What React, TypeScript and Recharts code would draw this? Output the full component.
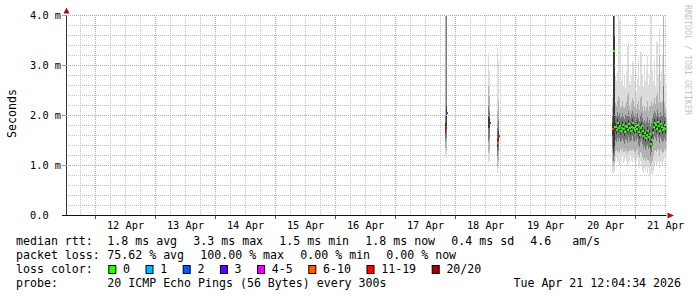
import React from 'react';
import { ComposedChart, Bar, Scatter, XAxis, YAxis, CartesianGrid, ReferenceDot, ReferenceLine } from 'recharts';

const MONO = '"DejaVu Sans Mono", "Liberation Mono", monospace';

// sample times in hours since 11 Apr 00:00 (one rrd step per pixel column, 24 min)
const times = [
  164.0, 164.4, 181.2, 181.6, 184.8, 185.2,
  230.8, 231.2, 231.6, 232.0, 232.4, 232.8, 233.2, 233.6, 234.0, 234.4,
  234.8, 235.2, 235.6, 236.0, 236.4, 236.8, 237.2, 237.6, 238.0, 238.4,
  238.8, 239.2, 239.6, 240.0, 240.4, 240.8, 241.2, 241.6, 242.0, 242.4,
  242.8, 243.2, 243.6, 244.0, 244.4, 244.8, 245.2, 245.6, 246.0, 246.4,
  246.8, 247.2, 247.6, 248.0, 248.4, 248.8, 249.2, 249.6, 250.0, 250.4,
  250.8, 251.2, 251.6, 252.0, 252.4,
];

// smoke percentiles of the 20 pings, ms
const rttMin = [
  1.2, 1.15, 1.05, 1.1, 0.85, 0.95,
  0.85, 0.85, 0.9, 1.1, 1.15, 1.05, 1.1, 1.0, 1.15, 1.1,
  1.2, 1.05, 1.1, 1.15, 1.1, 1.0, 1.05, 1.1, 1.2, 1.1,
  1.05, 1.15, 1.1, 1.0, 1.1, 1.15, 1.0, 0.95, 1.1, 1.0,
  0.9, 0.85, 0.95, 0.9, 1.0, 0.85, 0.95, 0.8, 0.8, 0.85,
  0.8, 0.9, 1.0, 1.1, 1.0, 1.05, 1.1, 0.95, 1.1, 1.05,
  1.0, 1.1, 1.15, 1.1, 1.2,
];
const rttP10 = [
  1.35, 1.3, 1.25, 1.3, 1.0, 1.1,
  1.1, 1.0, 1.05, 1.3, 1.32, 1.28, 1.3, 1.25, 1.33, 1.3,
  1.36, 1.27, 1.28, 1.34, 1.3, 1.24, 1.3, 1.3, 1.34, 1.3,
  1.32, 1.32, 1.28, 1.26, 1.3, 1.33, 1.22, 1.18, 1.28, 1.26,
  1.18, 1.12, 1.16, 1.1, 1.16, 1.12, 1.12, 1.08, 1.0, 1.05,
  1.1, 1.2, 1.3, 1.32, 1.27, 1.33, 1.32, 1.2, 1.34, 1.3,
  1.26, 1.28, 1.34, 1.3, 1.34,
];
const rttP25 = [
  1.5, 1.55, 1.5, 1.55, 1.2, 1.3,
  1.35, 1.1, 1.2, 1.52, 1.48, 1.56, 1.5, 1.55, 1.47, 1.5,
  1.56, 1.5, 1.44, 1.54, 1.52, 1.46, 1.58, 1.5, 1.47, 1.52,
  1.6, 1.5, 1.47, 1.53, 1.49, 1.56, 1.42, 1.38, 1.48, 1.54,
  1.44, 1.36, 1.4, 1.32, 1.38, 1.42, 1.34, 1.38, 1.2, 1.28,
  1.4, 1.52, 1.6, 1.56, 1.5, 1.62, 1.55, 1.45, 1.58, 1.52,
  1.48, 1.5, 1.56, 1.5, 1.48,
];
const rttP40 = [
  1.65, 1.8, 1.75, 1.75, 1.38, 1.5,
  1.6, 1.25, 1.4, 1.7, 1.64, 1.77, 1.67, 1.72, 1.62, 1.68,
  1.74, 1.66, 1.6, 1.72, 1.69, 1.64, 1.76, 1.67, 1.62, 1.7,
  1.78, 1.68, 1.64, 1.72, 1.66, 1.74, 1.6, 1.54, 1.67, 1.72,
  1.62, 1.52, 1.58, 1.48, 1.54, 1.62, 1.5, 1.56, 1.36, 1.44,
  1.58, 1.7, 1.78, 1.74, 1.66, 1.8, 1.72, 1.62, 1.76, 1.7,
  1.64, 1.68, 1.74, 1.66, 1.62,
];
const rttMedian = [
  1.76, 2.05, 1.92, 1.86, 1.46, 1.6,
  1.74, 3.3, 1.78, 1.78, 1.72, 1.85, 1.75, 1.8, 1.7, 1.76,
  1.82, 1.74, 1.68, 1.8, 1.77, 1.72, 1.84, 1.75, 1.7, 1.78,
  1.86, 1.76, 1.72, 1.8, 1.74, 1.82, 1.68, 1.62, 1.75, 1.8,
  1.7, 1.6, 1.66, 1.56, 1.62, 1.7, 1.58, 1.64, 1.44, 1.52,
  1.66, 1.78, 1.86, 1.82, 1.74, 1.88, 1.8, 1.7, 1.84, 1.78,
  1.72, 1.76, 1.82, 1.74, 1.7,
];
const rttP60 = [
  1.85, 2.2, 2.0, 1.95, 1.55, 1.7,
  1.85, 4.0, 3.6, 1.86, 1.8, 1.93, 1.83, 1.88, 1.78, 1.84,
  1.9, 1.82, 1.76, 1.88, 1.85, 1.8, 1.92, 1.83, 1.78, 1.86,
  1.94, 1.84, 1.8, 1.88, 1.82, 1.9, 1.76, 1.7, 1.83, 1.88,
  1.78, 1.68, 1.74, 1.64, 1.7, 1.78, 1.66, 1.72, 1.52, 1.6,
  1.74, 1.86, 1.94, 1.9, 1.82, 1.96, 1.88, 1.78, 1.92, 1.86,
  1.8, 1.84, 1.9, 1.82, 1.78,
];
const rttP75 = [
  2.0, 4.0, 2.2, 2.1, 1.75, 1.9,
  2.0, 4.0, 4.0, 2.02, 1.98, 2.08, 2.0, 2.05, 1.96, 2.0,
  2.06, 1.98, 1.94, 2.04, 2.02, 2.0, 2.1, 2.0, 1.95, 2.03,
  2.1, 2.02, 1.97, 2.04, 1.98, 2.06, 1.95, 1.9, 2.0, 2.05,
  1.96, 1.88, 1.92, 1.85, 1.9, 1.98, 1.86, 1.92, 1.8, 1.85,
  1.95, 2.04, 2.1, 2.06, 2.0, 2.12, 2.04, 1.98, 2.08, 2.02,
  2.0, 2.6, 2.06, 1.98, 1.95,
];
const rttP90 = [
  4.0, 4.0, 2.6, 2.4, 2.1, 2.3,
  2.2, 4.0, 4.0, 2.25, 2.2, 2.3, 2.4, 2.35, 2.15, 2.2,
  2.3, 2.18, 2.15, 2.22, 2.28, 2.4, 2.45, 2.2, 2.12, 2.25,
  2.35, 2.3, 2.18, 2.26, 2.14, 2.24, 2.3, 2.12, 2.35, 2.4,
  2.2, 2.1, 2.2, 2.1, 2.18, 2.3, 2.1, 2.2, 2.2, 2.3,
  2.2, 2.25, 2.35, 2.24, 2.4, 2.45, 2.25, 3.2, 2.28, 2.25,
  2.3, 4.0, 2.25, 2.15, 2.12,
];
const rttMax = [
  4.0, 4.0, 3.26, 2.9, 3.36, 3.1,
  2.35, 4.0, 4.0, 2.8, 2.7, 2.9, 4.0, 3.9, 2.6, 2.7,
  3.0, 2.6, 2.8, 2.55, 2.9, 3.4, 3.45, 2.7, 2.6, 2.8,
  3.1, 3.05, 2.7, 2.9, 2.5, 2.75, 3.1, 2.6, 3.3, 3.25,
  2.8, 2.6, 3.0, 2.7, 2.9, 3.2, 2.6, 2.8, 3.6, 4.0,
  2.9, 2.7, 3.1, 2.6, 3.5, 3.45, 2.8, 3.75, 2.7, 2.9,
  3.2, 4.0, 2.8, 2.5, 2.6,
];
const lostPings = [
  14, 2, 20, 2, 8, 15,
  8, 0, 0, 0, 0, 0, 0, 0, 0, 0,
  0, 0, 0, 0, 0, 0, 0, 0, 0, 0,
  0, 0, 0, 0, 0, 0, 0, 0, 0, 0,
  0, 0, 0, 0, 0, 0, 0, 0, 0, 0,
  0, 0, 0, 0, 0, 0, 0, 0, 0, 0,
  0, 0, 0, 0, 0,
];

const xDomain = [12.4, 252.4];
const dayTicks = [24, 36, 48, 60, 72, 84, 96, 108, 120, 132, 144, 156, 168, 180, 192, 204, 216, 228, 240, 252];
const dayStarts = [24, 48, 72, 96, 120, 144, 168, 192, 216, 240];
const minorHours = Array.from({ length: 40 }, (_, i) => 18 + i * 6).filter((h) => h % 24 !== 0);
const rttTicks = [0, 1, 2, 3, 4];
const majorRtt = [1, 2, 3, 4];
const minorRtt = Array.from({ length: 19 }, (_, i) => Math.round((i + 1) * 2) / 10).filter((v) => v % 1 !== 0);

const lossLabels = ['0', '1', '2', '3', '4-5', '6-10', '11-19', '20/20'];
const lossColors = ['#26ff00', '#00b8ff', '#0059ff', '#5e00ff', '#ee00ff', '#ff5e00', '#ff0000', '#a00000'];

const rttStats = [['1.8', 'avg'], ['3.3', 'max'], ['1.5', 'min'], ['1.8', 'now'], ['0.4', 'sd']];
const rttAmps = '4.6   am/s';
const lossStats = [['75.62', 'avg'], ['100.00', 'max'], ['0.00', 'min'], ['0.00', 'now']];
const probeText = '20 ICMP Echo Pings (56 Bytes) every 300s';
const stampText = 'Tue Apr 21 12:04:34 2026';

const lossClass = (n: number) => (n <= 3 ? n : n <= 5 ? 4 : n <= 10 ? 5 : n <= 19 ? 6 : 7);

// stacked smoke: invisible base up to the fastest ping, then bands toward the median and back out
const LIGHT = '#dcdcdc';
const WIDE = '#b2b2b2';
const MID = '#787878';
const CORE = '#383838';
const smokeSegments = [
  { key: 'base', fill: 'none' },
  { key: 's1', fill: LIGHT },
  { key: 's2', fill: WIDE },
  { key: 's3', fill: MID },
  { key: 's4', fill: CORE },
  { key: 's5', fill: MID },
  { key: 's6', fill: WIDE },
  { key: 's7', fill: LIGHT },
];

const rows = times.map((t, i) => ({
  t,
  base: rttMin[i],
  s1: rttP10[i] - rttMin[i],
  s2: rttP25[i] - rttP10[i],
  s3: rttP40[i] - rttP25[i],
  s4: rttP60[i] - rttP40[i],
  s5: rttP75[i] - rttP60[i],
  s6: rttP90[i] - rttP75[i],
  s7: rttMax[i] - rttP90[i],
  median: rttMedian[i],
  lossColor: lossColors[lossClass(lostPings[i])],
}));

const MAJOR = '#e0989a';
const MINOR = '#c2c2c2';

const SmokeRect = (p: any) =>
  p.smoke === 'none' || !p.height ? (
    <g />
  ) : (
    <rect
      x={p.x}
      y={Math.min(p.y, p.y + p.height)}
      width={p.width}
      height={Math.abs(p.height)}
      fill={p.smoke}
      shapeRendering="crispEdges"
    />
  );

const MedianMark = (p: any) => (
  <rect x={p.cx - 0.5} y={p.cy - 1} width={2} height={2} fill={p.payload.lossColor} shapeRendering="crispEdges" />
);

const DayTick = (p: any) => {
  const h = p.payload.value;
  if (h % 24 === 12) {
    return (
      <text x={p.x} y={p.y + 13} textAnchor="middle" fontFamily={MONO} fontSize={10.3} fill="#000">
        {`${11 + Math.floor(h / 24)} Apr`}
      </text>
    );
  }
  return <line x1={p.x} y1={p.y} x2={p.x} y2={p.y + 3} stroke="#555" shapeRendering="crispEdges" />;
};

const RttTick = (p: any) => {
  const v = p.payload.value;
  return (
    <g>
      <line x1={p.x - 5} y1={p.y} x2={p.x} y2={p.y} stroke={v === 0 ? '#111' : '#999'} shapeRendering="crispEdges" />
      <text x={p.x - 36.5} y={p.y + 3.5} fontFamily={MONO} fontSize={10.3} fill="#000">
        {v === 0 ? '0.0' : `${v.toFixed(1)} m`}
      </text>
    </g>
  );
};

const ArrowRight = (p: any) => (
  <polygon points={`${p.cx + 1},${p.cy - 3} ${p.cx + 7.5},${p.cy} ${p.cx + 1},${p.cy + 3}`} fill="#a81010" />
);
const ArrowUp = (p: any) => (
  <polygon points={`${p.cx - 3},${p.cy - 2} ${p.cx},${p.cy - 8} ${p.cx + 3},${p.cy - 2}`} fill="#a81010" />
);

const CH = 7;
const GAP = 16;
const rowY = [244.7, 258.8, 272.9, 287];

const placePieces = (pieces: string[], x0: number) => {
  let x = x0;
  return pieces.map((s) => {
    const at = x;
    x += s.length * CH + GAP;
    return { s, at };
  });
};

const Legend = () => {
  const rttPieces = placePieces([...rttStats.map(([v, k]) => `${v} ms ${k}`), rttAmps], 107.3);
  const lossPieces = placePieces(lossStats.map(([v, k]) => `${v} % ${k}`), 107.3);
  let bx = 108.3;
  const boxes = lossLabels.map((label, i) => {
    const at = bx;
    bx += 30.2 + label.length * CH;
    return { label, color: lossColors[i], at };
  });
  const txt = { fontFamily: MONO, fontSize: 11.6, fill: '#000' };
  return (
    <svg width={697} height={297} style={{ position: 'absolute', left: 0, top: 0, pointerEvents: 'none' }}>
      <text transform="translate(15.5,113.5) rotate(-90)" textAnchor="middle" {...txt}>Seconds</text>
      <text transform="translate(685,5) rotate(90)" fontFamily={MONO} fontSize={8.3} fill="#c4c4c4">
        RRDTOOL / TOBI OETIKER
      </text>
      <text x={16} y={rowY[0]} {...txt}>median rtt:</text>
      {rttPieces.map((p) => (
        <text key={p.s} x={p.at} y={rowY[0]} {...txt} style={{ whiteSpace: 'pre' }}>{p.s}</text>
      ))}
      <text x={16} y={rowY[1]} {...txt}>packet loss:</text>
      {lossPieces.map((p, i) => (
        <text key={i} x={p.at} y={rowY[1]} {...txt}>{p.s}</text>
      ))}
      <text x={16} y={rowY[2]} {...txt}>loss color:</text>
      {boxes.map((b) => (
        <g key={b.label}>
          <rect x={b.at + 0.5} y={265.5} width={7} height={8} fill={b.color} stroke="#000" />
          <text x={b.at + 14.7} y={rowY[2]} {...txt}>{b.label}</text>
        </g>
      ))}
      <text x={16} y={rowY[3]} {...txt}>probe:</text>
      <text x={107.3} y={rowY[3]} {...txt}>{probeText}</text>
      <text x={681} y={rowY[3]} textAnchor="end" {...txt}>{stampText}</text>
    </svg>
  );
};

export default function App() {
  return (
    <div style={{ position: 'absolute', left: 0, top: 0, width: 697, height: 297, background: '#fff' }}>
      <ComposedChart
        width={697}
        height={297}
        data={rows}
        margin={{ top: 15.5, right: 30.5, bottom: 61.5, left: 30.5 }}
      >
        <CartesianGrid
          stroke={MINOR}
          strokeDasharray="1 1"
          strokeDashoffset={0.5}
          verticalValues={minorHours}
          horizontalValues={minorRtt}
        />
        {dayStarts.map((h) => (
          <ReferenceLine key={`d${h}`} x={h} stroke={MAJOR} strokeWidth={1} strokeDasharray="1 1" strokeDashoffset={0.5} ifOverflow="visible" />
        ))}
        {majorRtt.map((v) => (
          <ReferenceLine key={`r${v}`} y={v} stroke={MAJOR} strokeWidth={1} strokeDasharray="1 1" strokeDashoffset={0.5} ifOverflow="visible" />
        ))}
        <XAxis
          type="number"
          dataKey="t"
          domain={xDomain}
          ticks={dayTicks}
          interval={0}
          tickLine={false}
          tickSize={0}
          tickMargin={0}
          height={20}
          axisLine={{ stroke: '#111' }}
          tick={(p: any) => <DayTick {...p} />}
          allowDataOverflow
        />
        <YAxis
          type="number"
          domain={[0, 4]}
          ticks={rttTicks}
          interval={0}
          width={36}
          tickLine={false}
          tickSize={0}
          tickMargin={0}
          axisLine={{ stroke: '#333' }}
          tick={(p: any) => <RttTick {...p} />}
          allowDataOverflow
        />
        {smokeSegments.map((s) => (
          <Bar
            key={s.key}
            dataKey={s.key}
            stackId="smoke"
            barSize={1}
            isAnimationActive={false}
            shape={(p: any) => <SmokeRect {...p} smoke={s.fill} />}
          />
        ))}
        <Scatter dataKey="median" isAnimationActive={false} shape={(p: any) => <MedianMark {...p} />} />
        <ReferenceDot x={xDomain[1]} y={0} shape={(p: any) => <ArrowRight {...p} />} />
        <ReferenceDot x={xDomain[0]} y={4} shape={(p: any) => <ArrowUp {...p} />} />
      </ComposedChart>
      <Legend />
    </div>
  );
}
